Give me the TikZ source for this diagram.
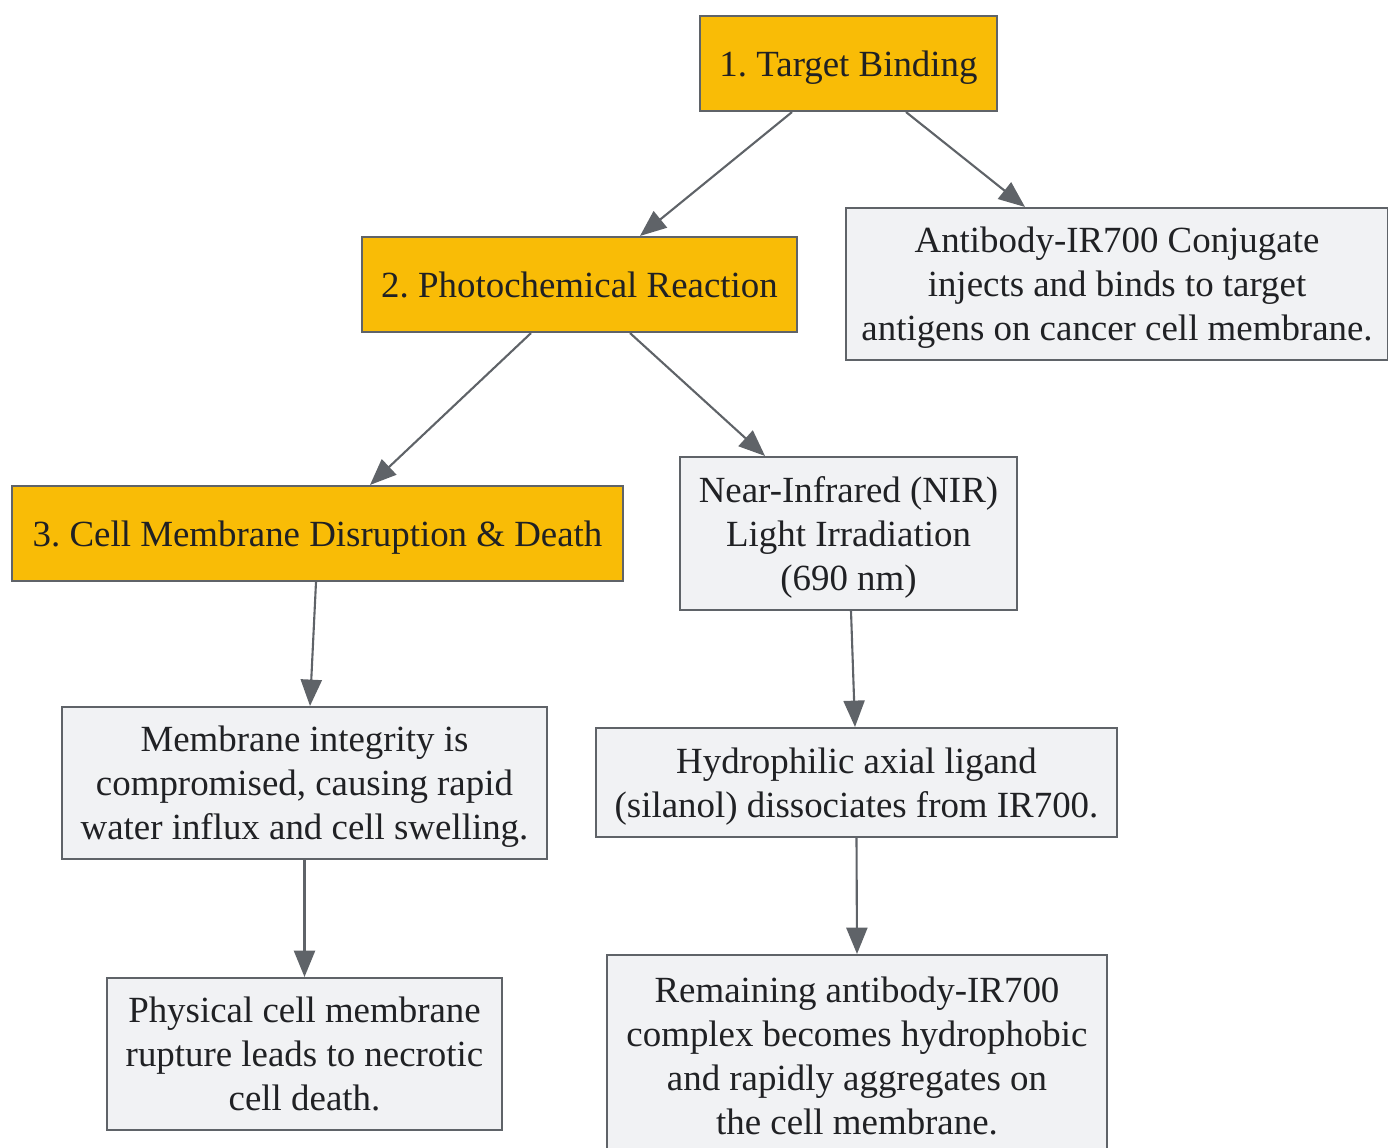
\documentclass[tikz,border=0pt]{standalone}
\usepackage{fontspec}
\setmainfont{Liberation Serif}
\usetikzlibrary{arrows.meta}
\frenchspacing

\definecolor{stepyellow}{HTML}{F9BC06}
\definecolor{notegray}{HTML}{F1F2F4}
\definecolor{edgegray}{HTML}{5F6368}
\definecolor{inkgray}{HTML}{202124}

\tikzset{
  stepbox/.style={draw=edgegray, line width=1.2pt, fill=stepyellow, align=center,
    text=inkgray, inner sep=0pt, text depth=-1.5pt, font=\fontsize{21}{25}\selectfont},
  notebox/.style={draw=edgegray, line width=1.2pt, fill=notegray, align=center,
    text=inkgray, inner sep=0pt, text depth=-1.5pt, font=\fontsize{21}{25}\selectfont},
  flow/.style={draw=edgegray, line width=1.2pt, -{Triangle[length=15pt,width=12pt]}}
}

\begin{document}
\begin{tikzpicture}[x=0.02cm, y=-0.02cm]
\useasboundingbox (0,0) rectangle (1388,1147);

% main steps
\node[stepbox, minimum width=5.94cm, minimum height=1.9cm] (target) at (848.5,63.5) {1. Target Binding};
\node[stepbox, minimum width=8.7cm, minimum height=1.9cm] (photo) at (579.5,284.5) {2. Photochemical Reaction};
\node[stepbox, minimum width=12.22cm, minimum height=1.9cm] (death) at (317.5,533.5) {3. Cell Membrane Disruption \& Death};

% notes
\node[notebox, minimum width=10.84cm, minimum height=3.04cm] (conj) at (1117,284) {Antibody-IR700 Conjugate\\injects and binds to target\\antigens on cancer cell membrane.};
\node[notebox, minimum width=6.74cm, minimum height=3.06cm] (nir) at (848.5,533.5) {Near-Infrared (NIR)\\Light Irradiation\\(690 nm)};
\node[notebox, minimum width=9.7cm, minimum height=3.04cm] (swell) at (304.5,783) {Membrane integrity is\\compromised, causing rapid\\water influx and cell swelling.};
\node[notebox, minimum width=10.42cm, minimum height=2.18cm] (ligand) at (856.5,782.5) {Hydrophilic axial ligand\\(silanol) dissociates from IR700.};
\node[notebox, minimum width=7.9cm, minimum height=3.04cm] (rupture) at (304.5,1054) {Physical cell membrane\\rupture leads to necrotic\\cell death.};
\node[notebox, minimum width=10cm, minimum height=4.04cm] (aggr) at (857,1056) {Remaining antibody-IR700\\complex becomes hydrophobic\\and rapidly aggregates on\\the cell membrane.};

% connectors
\draw[flow] ([xshift=-1.13cm]target.south) -- ([xshift=1.21cm]photo.north);
\draw[flow] ([xshift=1.15cm]target.south) -- ([xshift=-1.84cm]conj.north);
\draw[flow] ([xshift=-0.97cm]photo.south) -- ([xshift=1.05cm]death.north);
\draw[flow] ([xshift=1.01cm]photo.south) -- ([xshift=-1.67cm]nir.north);
\draw[flow] ([xshift=-0.03cm]death.south) -- ([xshift=0.11cm]swell.north);
\draw[flow] ([xshift=0.05cm]nir.south) -- ([xshift=-0.03cm]ligand.north);
\draw[flow] (swell.south) -- (rupture.north);
\draw[flow] (ligand.south) -- (aggr.north);
\end{tikzpicture}
\end{document}
